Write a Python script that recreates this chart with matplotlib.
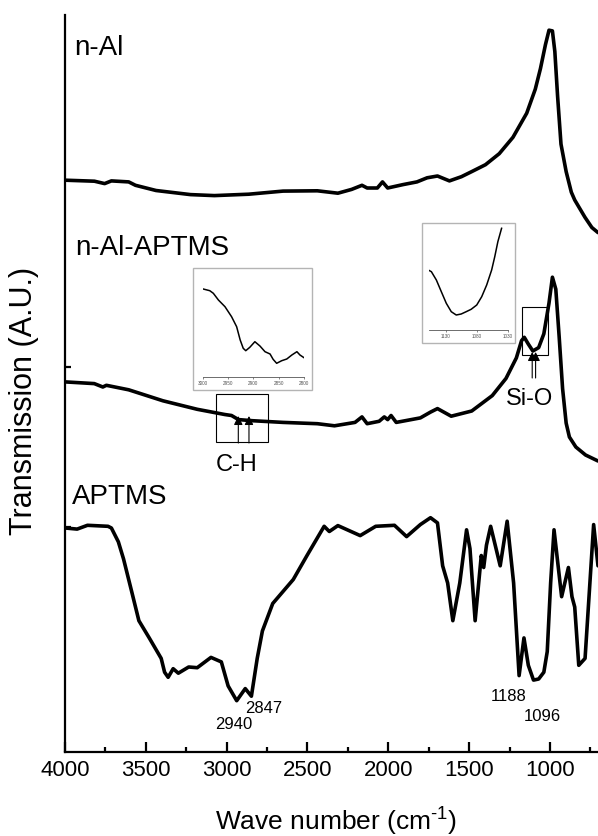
import matplotlib.pyplot as plt
from matplotlib.patches import Rectangle
from matplotlib.ticker import MultipleLocator, NullFormatter

plt.rcParams['font.family'] = ['Liberation Sans', 'DejaVu Sans']
plt.rcParams['mathtext.fontset'] = 'custom'
plt.rcParams['mathtext.rm'] = 'Liberation Sans'

# ---- spectra (wave number, transmission in arbitrary stacked units) ----
wn_al = [3999, 3818, 3755, 3713, 3606, 3564, 3437, 3224, 3076, 2863, 2651, 2439, 2312, 2227,
         2163, 2131, 2068, 2036, 2004, 1909, 1823, 1760, 1696, 1622, 1548, 1484, 1399, 1314,
         1229, 1144, 1091, 1059, 1028, 1006, 985, 970, 953, 932, 900, 868, 847, 784, 741, 703]
tr_al = [571.8, 570.8, 568.4, 571.1, 570.1, 566.7, 561.5, 557.4, 556.4, 557.8, 560.9, 561.2, 558.8, 562.6,
         566.7, 564, 564, 570.1, 564, 567.4, 570.1, 574.2, 576, 571.1, 575.3, 580.4, 587.3, 598.3,
         614.7, 638.8, 662.8, 683.4, 707.4, 721.8, 721.1, 700.5, 655.9, 607.9, 580.4, 559.8, 552, 534.8, 524.5, 519.4]

wn_alap = [3999, 3819, 3766, 3744, 3606, 3394, 3182, 3012, 2970, 2927, 2842, 2651, 2439, 2333,
           2206, 2163, 2131, 2057, 2025, 2004, 1983, 1951, 1802, 1739, 1696, 1611, 1484, 1357,
           1272, 1208, 1176, 1159, 1134, 1106, 1070, 1038, 1006, 985, 964, 943, 922, 900, 880, 840, 780, 703]
tr_alap = [370.1, 368.4, 365, 366.7, 362.2, 351.2, 342.7, 337.5, 336.5, 332.4, 331.3, 329.6, 328.3, 326.2,
           329.6, 335.1, 328.3, 330.7, 335.1, 332.4, 336.5, 329.6, 334.1, 339.9, 343.4, 335.8, 341, 356.4,
           373.6, 394.1, 411.3, 414.7, 407.9, 401, 404.4, 418.2, 449, 474.8, 462.8, 414.7, 363.3, 328.9, 315, 305, 297, 291]

wn_ap = [3999, 3925, 3861, 3734, 3713, 3670, 3638, 3585, 3543, 3479, 3405, 3384, 3362, 3331,
         3299, 3235, 3182, 3097, 3033, 2991, 2938, 2885, 2847, 2811, 2779, 2715, 2588, 2503,
         2397, 2365, 2312, 2174, 2078, 1962, 1887, 1802, 1739, 1696, 1664, 1633, 1601, 1558,
         1516, 1495, 1463, 1425, 1410, 1393, 1367, 1308, 1265, 1225, 1191, 1161, 1134, 1102,
         1070, 1038, 1017, 996, 975, 928, 886, 864, 847, 822, 783, 730, 703]
tr_ap = [224, 222.9, 226.7, 225.7, 224, 210.2, 193.1, 158.8, 131.3, 114.1, 93.6, 79.8, 74.7, 83.3,
         78.8, 85, 84.3, 94.6, 90.1, 66.1, 51.3, 63.4, 55.8, 93.6, 121, 148.5, 172.5, 196.5,
         225.7, 220.5, 226.4, 216.4, 225.7, 226.7, 215.4, 227.4, 234.3, 229.1, 186.2, 169, 131.3, 169,
         222.2, 203.4, 131.3, 196.5, 184.5, 206.8, 225.7, 186.2, 230.8, 169, 76.4, 114.1, 86.7, 71.9,
         73, 79.8, 100.4, 169, 222.2, 155.3, 184.5, 155.3, 145, 86.7, 93.6, 227.4, 186.2]

# zoomed insets
wn_ch = [2999, 2986, 2979, 2969, 2956, 2943, 2933, 2926, 2920, 2915, 2907, 2897, 2887, 2877,
         2867, 2861, 2854, 2844, 2834, 2824, 2814, 2808, 2800]
tr_ch = [87.7, 86, 83.4, 76.7, 70, 60, 50, 36.7, 28.4, 26, 29.4, 35, 30.7, 25,
         22.7, 17.4, 13.4, 16, 17.7, 21.7, 25, 21.7, 19]
wn_sio = [1158, 1153, 1145, 1137, 1129, 1121, 1113, 1105, 1097, 1089, 1080, 1072, 1064, 1056, 1051, 1046, 1040]
tr_sio = [59.7, 58, 49.7, 38, 26.4, 18, 14.7, 15.7, 18, 20.4, 24.7, 33, 44.7, 59.7, 73, 88, 101.4]

peak_lbl = ['2940', '2847', '1188', '1096']

W, H = 598, 836
fig = plt.figure(figsize=(W / 100, H / 100), dpi=100)


def frac(x0, y0, x1, y1):
    # pixel box (top-left origin) -> figure fraction rect
    return [x0 / W, 1 - y1 / H, (x1 - x0) / W, (y1 - y0) / H]


ax = fig.add_axes(frac(65, 15, 598, 752))
lw = 2.6
for x, y in [(wn_al, tr_al), (wn_alap, tr_alap), (wn_ap, tr_ap)]:
    ax.plot(x, y, color='k', lw=lw, solid_joinstyle='round', solid_capstyle='round')
ax.set_xlim(4000, 703)
ax.set_ylim(0, 737)

for s in ['top', 'right']:
    ax.spines[s].set_visible(False)
for s in ['left', 'bottom']:
    ax.spines[s].set_linewidth(1.6)
ax.xaxis.set_major_locator(MultipleLocator(500))
ax.xaxis.set_minor_locator(MultipleLocator(250))
ax.tick_params(axis='x', which='major', direction='in', length=7, width=1.6, labelsize=16, pad=6)
ax.tick_params(axis='x', which='minor', direction='in', length=3.5, width=1.6)
ax.set_yticks([225, 385])
ax.yaxis.set_major_formatter(NullFormatter())
ax.tick_params(axis='y', direction='in', length=4, width=1.6)

fig.text(336 / W, 1 - 830 / H, r'Wave number (cm$^{\mathrm{\text{-1}}}$)', fontsize=19,
         ha='center', va='baseline')
fig.text(24 / W, 1 - 401 / H, 'Transmission (A.U.)', fontsize=22, rotation=90, ha='center', va='center')

ax.text(3946, 704, 'n-Al', fontsize=20, ha='left', va='center')
ax.text(3936, 504, 'n-Al-APTMS', fontsize=20, ha='left', va='center')
ax.text(3957, 255, 'APTMS', fontsize=20, ha='left', va='center')

lbl_pos = [(2959, 27.7), (2768, 43.8), (1254, 55.8), (1048, 35.2)]
for (x, y), t in zip(lbl_pos, peak_lbl):
    ax.text(x, y, t, fontsize=12, ha='center', va='center')

# small boxes and arrows marking the zoomed regions
ax.add_patch(Rectangle((3068, 309.7), 2743 - 3068, 358 - 309.7, fill=False, lw=0.8, ec='k'))
ax.add_patch(Rectangle((1173, 397), 1011 - 1173, 444.7 - 397, fill=False, lw=0.8, ec='k'))
for x in [2928, 2862]:
    ax.annotate('', xy=(x, 336), xytext=(x, 309),
                arrowprops=dict(arrowstyle='-|>', lw=0.8, color='k', mutation_scale=13, shrinkA=0, shrinkB=0))
for x in [1110, 1089]:
    ax.annotate('', xy=(x, 400), xytext=(x, 374),
                arrowprops=dict(arrowstyle='-|>', lw=0.8, color='k', mutation_scale=13, shrinkA=0, shrinkB=0))
ax.text(2940, 287, 'C-H', fontsize=17, ha='center', va='center')
ax.text(1124, 353, 'Si-O', fontsize=17, ha='center', va='center')

# grey frames of the insets
for box in [(193.3, 268.3, 311.7, 390), (421.7, 223, 515, 343.4)]:
    r = frac(*box)
    fig.patches.append(Rectangle((r[0], r[1]), r[2], r[3], transform=fig.transFigure,
                                 fill=True, fc='white', ec='#b4b4b4', lw=1.0, zorder=3))


def inset(rect, x, y, xlim, ylim, ticks):
    a = fig.add_axes(rect, zorder=4)
    a.patch.set_alpha(0)
    a.plot(x, y, color='k', lw=1.1)
    a.set_xlim(*xlim)
    a.set_ylim(*ylim)
    for s in ['top', 'right', 'left']:
        a.spines[s].set_visible(False)
    a.spines['bottom'].set_linewidth(0.6)
    a.spines['bottom'].set_color('#555555')
    a.set_yticks([])
    a.set_xticks(ticks)
    a.tick_params(axis='x', direction='out', length=1.5, width=0.5, colors='#555555',
                  labelsize=3.3, pad=1.5)
    return a


inset(frac(202.7, 285, 304, 376.7), wn_ch, tr_ch, (3000, 2800), (0, 91.7),
      [3000, 2950, 2900, 2850, 2800])
inset(frac(428.9, 226, 507.8, 329.7), wn_sio, tr_sio, (1157, 1030), (0, 103.7),
      [1130, 1080, 1030])

fig.savefig('out.png', dpi=100)
